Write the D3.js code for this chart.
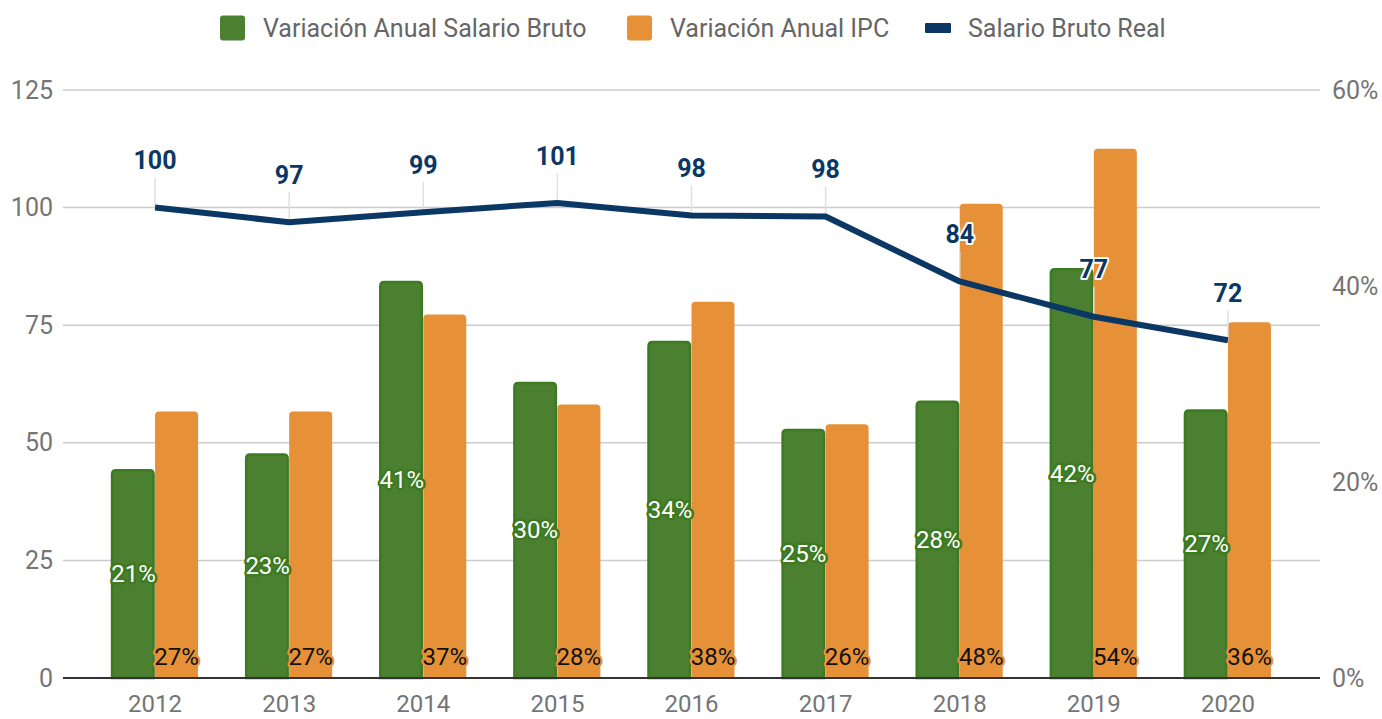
<!DOCTYPE html>
<html lang="es">
<head>
    <meta charset="UTF-8">
    <title>Salario Bruto Real</title>
    <script src="https://cdn.jsdelivr.net/npm/d3@7"></script>
    <style>
        body { margin: 0; background: #fff; }
        svg { font-family: Roboto, 'Noto Sans', sans-serif; }
    </style>
</head>
<body>
<script>
    // data
    const years = ['2012', '2013', '2014', '2015', '2016', '2017', '2018', '2019', '2020']
    const salarioBruto = [21.3, 22.9, 40.5, 30.2, 34.4, 25.4, 28.3, 41.8, 27.4]
    const ipc = [27.2, 27.2, 37.1, 27.9, 38.4, 25.9, 48.4, 54.0, 36.3]
    const salarioReal = [100, 96.9, 99, 101, 98.3, 98.1, 84.3, 76.8, 71.8]
    const leftTicks = [0, 25, 50, 75, 100, 125]
    const rightTicks = [0, 20, 40, 60]

    const [width, height] = [1382, 719]
    const [plotLeft, plotRight, plotTop, plotBottom] = [63, 1320, 90, 678]
    const green = '#4a8030', greenDark = '#3d7a22', orange = '#e69138', navy = '#0b3764'

    const svg = d3.select('body').append('svg')
        .attr('width', width)
        .attr('height', height)

    const x = d3.scaleBand().domain(years).range([88, 1295])
    const yLeft = d3.scaleLinear().domain([0, 125]).range([plotBottom, plotTop])
    const yRight = d3.scaleLinear().domain([0, 60]).range([plotBottom, plotTop])
    const barW = 43

    // grid
    svg.append('g').selectAll('line').data(leftTicks.slice(1)).join('line')
        .attr('x1', plotLeft).attr('x2', plotRight)
        .attr('y1', d => yLeft(d)).attr('y2', d => yLeft(d))
        .attr('stroke', '#cccccc').attr('stroke-width', 1.5)

    // left axis
    const leftAxis = d3.axisLeft(yLeft).tickValues(leftTicks).tickSize(0).tickPadding(10)
    svg.append('g').attr('transform', `translate(${plotLeft}, 0)`).call(leftAxis)
        .call(g => g.select('.domain').remove())
        .selectAll('text').attr('font-size', 25).attr('fill', '#757575')
        .attr('font-family', 'Roboto')

    // right axis
    const rightAxis = d3.axisRight(yRight).tickValues(rightTicks).tickSize(0).tickPadding(12)
        .tickFormat(d => d + '%')
    svg.append('g').attr('transform', `translate(${plotRight}, 0)`).call(rightAxis)
        .call(g => g.select('.domain').remove())
        .selectAll('text').attr('font-size', 25).attr('fill', '#757575')
        .attr('font-family', 'Roboto')

    // rounded-top bar path
    const barPath = (x0, y0, w, y1, r) => {
        r = Math.min(r, (y1 - y0))
        return `M${x0},${y1}V${y0 + r}Q${x0},${y0} ${x0 + r},${y0}H${x0 + w - r}Q${x0 + w},${y0} ${x0 + w},${y0 + r}V${y1}Z`
    }

    const center = d => x(d) + x.bandwidth() / 2

    svg.append('g').selectAll('path').data(years).join('path')
        .attr('d', (d, i) => barPath(center(d) - barW, yRight(salarioBruto[i]) + 1, barW - 1.5, plotBottom, 4))
        .attr('fill', green).attr('stroke', greenDark).attr('stroke-width', 2.5)

    svg.append('g').selectAll('path').data(years).join('path')
        .attr('d', (d, i) => barPath(center(d), yRight(ipc[i]), barW, plotBottom, 4))
        .attr('fill', orange)

    // baseline
    svg.append('line')
        .attr('x1', plotLeft).attr('x2', plotRight)
        .attr('y1', plotBottom).attr('y2', plotBottom)
        .attr('stroke', '#333').attr('stroke-width', 2)

    // x axis labels
    const xAxis = d3.axisBottom(x).tickSize(0).tickPadding(17)
    svg.append('g').attr('transform', `translate(0, ${plotBottom})`).call(xAxis)
        .call(g => g.select('.domain').remove())
        .selectAll('text').attr('font-size', 24).attr('fill', '#757575')
        .attr('font-family', 'Roboto')

    // bar labels
    svg.append('g').selectAll('text').data(years).join('text')
        .attr('x', d => center(d) - barW / 2)
        .attr('y', (d, i) => (yRight(salarioBruto[i]) + plotBottom) / 2)
        .attr('dy', '0.35em')
        .attr('text-anchor', 'middle')
        .attr('font-size', 24)
        .attr('fill', '#fff')
        .attr('stroke', greenDark).attr('stroke-width', 5).attr('stroke-linejoin', 'round')
        .attr('paint-order', 'stroke')
        .text((d, i) => Math.round(salarioBruto[i]) + '%')

    svg.append('g').selectAll('text').data(years).join('text')
        .attr('x', d => center(d) + barW / 2)
        .attr('y', plotBottom - 21)
        .attr('dy', '0.35em')
        .attr('text-anchor', 'middle')
        .attr('font-size', 24)
        .attr('fill', '#111')
        .attr('stroke', orange).attr('stroke-width', 5).attr('stroke-linejoin', 'round')
        .attr('paint-order', 'stroke')
        .text((d, i) => Math.round(ipc[i]) + '%')

    // line leaders
    svg.append('g').selectAll('line').data(years).join('line')
        .attr('x1', d => center(d)).attr('x2', d => center(d))
        .attr('y1', (d, i) => yLeft(salarioReal[i]) - 30)
        .attr('y2', (d, i) => yLeft(salarioReal[i]))
        .attr('stroke', '#e0e0e0').attr('stroke-width', 1.5)

    // line
    const line = d3.line().x(d => center(d[0])).y(d => yLeft(d[1]))
    svg.append('path')
        .datum(years.map((y, i) => [y, salarioReal[i]]))
        .attr('d', line)
        .attr('fill', 'none')
        .attr('stroke', navy).attr('stroke-width', 6)
        .attr('stroke-linejoin', 'round')

    // line labels
    svg.append('g').selectAll('text').data(years).join('text')
        .attr('x', d => center(d))
        .attr('y', (d, i) => yLeft(salarioReal[i]) - 47)
        .attr('dy', '0.35em')
        .attr('text-anchor', 'middle')
        .attr('font-size', 25).attr('font-weight', 'bold')
        .attr('fill', navy)
        .attr('stroke', '#fff').attr('stroke-width', 4).attr('stroke-linejoin', 'round')
        .attr('paint-order', 'stroke')
        .text((d, i) => Math.round(salarioReal[i]))

    // legend
    const legend = svg.append('g').attr('font-size', 25).attr('fill', '#666')
    const items = [
        { name: 'Variación Anual Salario Bruto', color: green, x: 220, h: 25 },
        { name: 'Variación Anual IPC', color: orange, x: 627, h: 25 },
        { name: 'Salario Bruto Real', color: navy, x: 925, h: 10 }
    ]
    items.forEach(it => {
        legend.append('rect')
            .attr('x', it.x).attr('y', 28 - it.h / 2)
            .attr('width', it.h === 10 ? 26 : 25).attr('height', it.h)
            .attr('rx', it.h === 10 ? 1 : 3)
            .attr('fill', it.color)
        legend.append('text')
            .attr('x', it.x + 43).attr('y', 28)
            .attr('dy', '0.35em')
            .text(it.name)
    })
</script>
</body>
</html>
